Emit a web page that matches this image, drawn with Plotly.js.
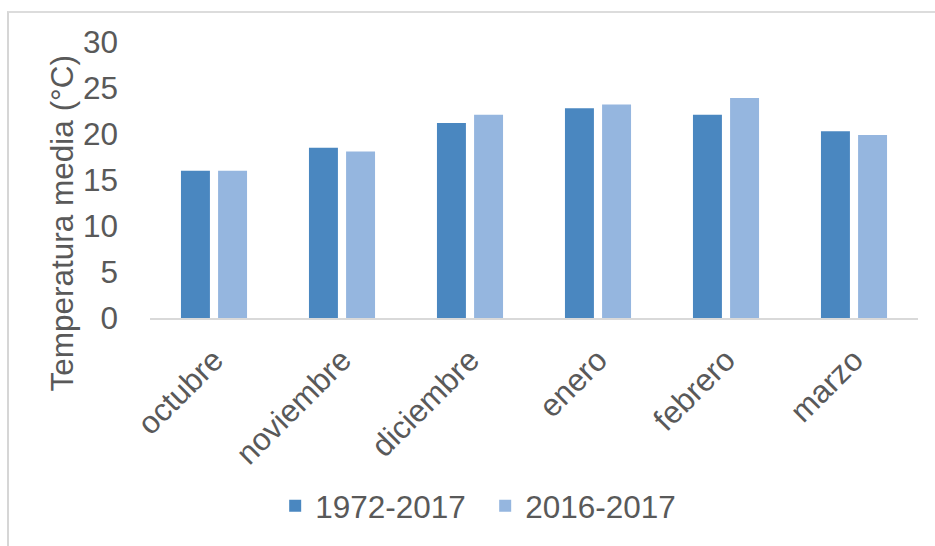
<!DOCTYPE html>
<html>
<head>
<meta charset="utf-8">
<script src="https://cdn.plot.ly/plotly-3.0.1.min.js"></script>
<style>
  html, body { margin: 0; padding: 0; background: #ffffff; }
  #wrap { position: relative; width: 935px; height: 546px; overflow: hidden; }
  #frame {
    position: absolute; left: 7px; top: 11px; width: 940px; height: 533px;
    border-left: 2px solid #d6d6d6; border-top: 2px solid #dcdcdc; border-bottom: 1px solid #e4e4e4;
    pointer-events: none;
  }
  #chart { position: absolute; left: 0; top: 0; width: 935px; height: 546px; }
</style>
</head>
<body>
<div id="wrap">
  <div id="chart"></div>
  <div id="frame"></div>
</div>
<script>
// Monthly mean temperature, October to March
const months = ['octubre', 'noviembre', 'diciembre', 'enero', 'febrero', 'marzo'];
const series1Name = '1972-2017';
const series1 = [16.0, 18.5, 21.2, 22.8, 22.1, 20.3];
const series2Name = '2016-2017';
const series2 = [16.0, 18.1, 22.1, 23.2, 23.9, 19.9];
const yTicks = [0, 5, 10, 15, 20, 25, 30];

const textColor = '#595959';
const fontFamily = '"Liberation Sans", Arial, sans-serif';
const fontSize = 31.5;

const traces = [
  {
    type: 'bar', name: series1Name, x: months, y: series1,
    marker: { color: '#4A87C0' }, hoverinfo: 'x+y+name'
  },
  {
    type: 'bar', name: series2Name, x: months, y: series2,
    marker: { color: '#95B6DF' }, hoverinfo: 'x+y+name'
  }
];

const layout = {
  width: 935, height: 546,
  margin: { l: 150, r: 17, t: 42, b: 228 },
  paper_bgcolor: '#ffffff', plot_bgcolor: '#ffffff',
  font: { family: fontFamily, size: fontSize, color: textColor },
  barmode: 'group', bargap: 0.42, bargroupgap: 0.22,
  showlegend: true,
  legend: {
    orientation: 'h', x: 0.163, xanchor: 'left', y: -0.68, yanchor: 'middle',
    entrywidth: 165, entrywidthmode: 'pixels',
    font: { family: fontFamily, size: fontSize, color: textColor },
    itemclick: false, itemdoubleclick: false
  },
  xaxis: {
    type: 'category', range: [-0.5, 5.5],
    showline: true, linecolor: '#d9d9d9', linewidth: 2,
    showgrid: false, zeroline: false, ticks: '',
    tickangle: -45, ticklabelstandoff: 9,
    tickfont: { family: fontFamily, size: fontSize, color: textColor },
    fixedrange: true
  },
  yaxis: {
    range: [0, 30], tickvals: yTicks, ticktext: yTicks.map(String),
    showline: false, showgrid: false, zeroline: false, ticks: '',
    ticklabelstandoff: 31,
    tickfont: { family: fontFamily, size: fontSize, color: textColor },
    fixedrange: true
  },
  annotations: [
    {
      text: 'Temperatura media (°C)', textangle: -90,
      xref: 'paper', yref: 'paper', x: -0.114, y: 0.344,
      xanchor: 'center', yanchor: 'middle', showarrow: false,
      font: { family: fontFamily, size: fontSize, color: textColor }
    }
  ]
};

Plotly.newPlot('chart', traces, layout, { displayModeBar: false, staticPlot: true });
</script>
</body>
</html>
